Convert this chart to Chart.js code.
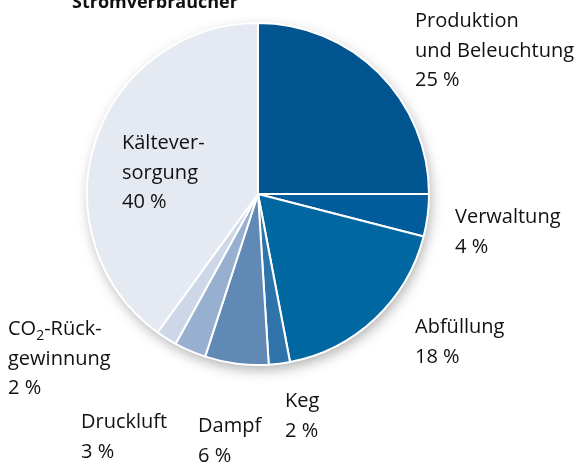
<!DOCTYPE html>
<html>
<head>
<meta charset="utf-8">
<script src="https://cdn.jsdelivr.net/npm/chart.js@4.4.1/dist/chart.umd.min.js"></script>
<style>
  html, body { margin: 0; padding: 0; background: #fff; }
  #wrap { width: 585px; height: 466px; position: relative; }
</style>
</head>
<body>
<div id="wrap"><canvas id="chart" width="585" height="466"></canvas></div>
<script>
const categories = ['Produktion und Beleuchtung', 'Verwaltung', 'Abfüllung', 'Keg', 'Dampf', 'Druckluft', 'CO2-Rückgewinnung', 'Kälteversorgung'];
const shares = [25, 4, 18, 2, 6, 3, 2, 40];
const labelLines = [
    ['Produktion', 'und Beleuchtung'],
    ['Verwaltung'],
    ['Abfüllung'],
    ['Keg'],
    ['Dampf'],
    ['Druckluft'],
    ['CO2-Rück-', 'gewinnung'],
    ['Kältever-', 'sorgung']
];
const sliceColors = ['#00548f', '#005c9a', '#0067a0', '#2e74aa', '#6089b6', '#98b0d0', '#cdd7e7', '#e5e9f2'];
// top-left anchor of each label (first baseline)
const labelPos = [[415, 27], [455, 223], [415, 333], [285, 407], [198, 432], [81, 428], [8, 335], [122, 149]];
const FONT = '20px "Open Sans", "Noto Sans", sans-serif';
const LINE_H = 29.5;

const shadowPlugin = {
    id: 'pieShadow',
    beforeDatasetsDraw(chart) {
        const arc = chart.getDatasetMeta(0).data[0];
        if (!arc) return;
        const ctx = chart.ctx;
        ctx.save();
        ctx.shadowColor = 'rgba(0,0,0,0.35)';
        ctx.shadowBlur = 14;
        ctx.shadowOffsetX = 2;
        ctx.shadowOffsetY = 5;
        ctx.fillStyle = '#e5e9f2';
        ctx.beginPath();
        ctx.arc(arc.x, arc.y, arc.outerRadius - 1, 0, Math.PI * 2);
        ctx.fill();
        ctx.restore();
    }
};

const labelPlugin = {
    id: 'sliceLabels',
    afterDraw(chart) {
        const ctx = chart.ctx;
        ctx.save();
        ctx.fillStyle = '#111111';
        ctx.textBaseline = 'alphabetic';
        ctx.textAlign = 'left';

        ctx.font = 'bold 18px "Open Sans", "Noto Sans", sans-serif';
        ctx.fillText('Stromverbraucher', 72, 8);

        ctx.font = FONT;
        labelLines.forEach((lines, i) => {
            const [x, y] = labelPos[i];
            const all = lines.concat([shares[i] + ' %']);
            all.forEach((line, j) => {
                const yy = y + j * LINE_H;
                if (line.startsWith('CO2')) {
                    ctx.fillText('CO', x, yy);
                    let w = ctx.measureText('CO').width;
                    ctx.font = '14px "Open Sans", "Noto Sans", sans-serif';
                    ctx.fillText('2', x + w, yy + 5);
                    w += ctx.measureText('2').width;
                    ctx.font = FONT;
                    ctx.fillText(line.slice(3), x + w, yy);
                } else {
                    ctx.fillText(line, x, yy);
                }
            });
        });
        ctx.restore();
    }
};

new Chart(document.getElementById('chart'), {
    type: 'pie',
    data: {
        labels: categories,
        datasets: [{
            data: shares,
            backgroundColor: sliceColors,
            borderColor: '#ffffff',
            borderWidth: 2
        }]
    },
    options: {
        responsive: false,
        animation: false,
        layout: { padding: { left: 86, right: 155, top: 22, bottom: 100 } },
        plugins: {
            legend: { display: false },
            tooltip: { enabled: false }
        }
    },
    plugins: [shadowPlugin, labelPlugin]
});
</script>
</body>
</html>
